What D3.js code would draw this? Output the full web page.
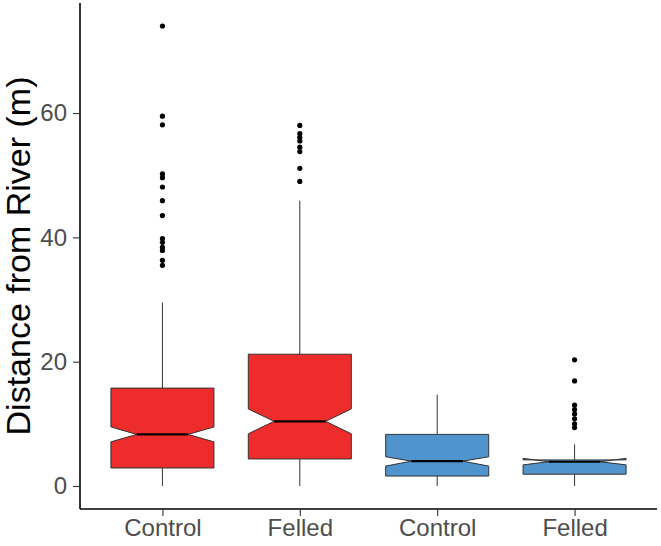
<!DOCTYPE html>
<html>
<head>
<meta charset="utf-8">
<script src="https://cdn.jsdelivr.net/npm/d3@7"></script>
<style>
  body { margin: 0; background: #fff; }
  svg { display: block; font-family: "Liberation Sans", Arial, sans-serif; }
</style>
</head>
<body>
<div id="chart"></div>
<script>
// groups and their x tick labels
var groups = ["g1", "g2", "g3", "g4"];
var labels = ["Control", "Felled", "Control", "Felled"];
var fills = ["#EE2C2C", "#EE2C2C", "#4F94CD", "#4F94CD"];

// box statistics
var lowerWhisker = [0, 0, 0, 0];
var q1 = [2.9, 4.35, 1.6, 1.9];
var notchLow = [7.1, 8.4, 3.2, 3.4];
var median = [8.3, 10.4, 4.0, 3.9];
var notchHigh = [9.5, 12.4, 4.7, 4.45];
var q3 = [15.75, 21.2, 8.3, 4.2];
var upperWhisker = [29.5, 45.9, 14.7, 6.7];

// outliers per group
var outliers = [
  [74.0, 59.5, 58.1, 50.2, 49.6, 48.1, 45.9, 43.5, 39.8, 39.2, 38.4, 37.9, 36.3, 35.5],
  [58.0, 56.7, 56.1, 55.5, 54.5, 53.8, 51.1, 49.0],
  [],
  [20.3, 16.9, 13.0, 12.3, 11.6, 10.8, 10.0, 9.4]
];

var yTicks = [0, 20, 40, 60];

var width = 661, height = 546;
var margin = { left: 80, right: 4, top: 3, bottom: 37 };

var svg = d3.select("#chart").append("svg")
  .attr("width", width)
  .attr("height", height);

var x = d3.scalePoint()
  .domain(groups)
  .range([margin.left, width - margin.right])
  .padding(0.6);

var y = d3.scaleLinear()
  .domain([-3.7, 77.7])
  .range([height - margin.bottom, margin.top]);

var boxW = x.step() * 0.75;

var data = groups.map(function (g, i) {
  return {
    g: g, fill: fills[i],
    lo: lowerWhisker[i], q1: q1[i], nl: notchLow[i], med: median[i],
    nh: notchHigh[i], q3: q3[i], hi: upperWhisker[i], out: outliers[i]
  };
});

var boxes = svg.append("g").selectAll("g")
  .data(data)
  .enter().append("g");

// whiskers
boxes.append("line")
  .attr("x1", function (d) { return x(d.g); })
  .attr("x2", function (d) { return x(d.g); })
  .attr("y1", function (d) { return y(d.q3); })
  .attr("y2", function (d) { return y(d.hi); })
  .attr("stroke", "#333").attr("stroke-width", 1);
boxes.append("line")
  .attr("x1", function (d) { return x(d.g); })
  .attr("x2", function (d) { return x(d.g); })
  .attr("y1", function (d) { return y(d.q1); })
  .attr("y2", function (d) { return y(d.lo); })
  .attr("stroke", "#333").attr("stroke-width", 1);

// notched box, same outline order ggplot uses
boxes.append("path")
  .attr("d", function (d) {
    var x0 = x(d.g) - boxW / 2, x1 = x(d.g) + boxW / 2, ind = boxW / 4;
    var pts = [
      [x0, y(d.q3)], [x0, y(d.nh)], [x0 + ind, y(d.med)], [x0, y(d.nl)], [x0, y(d.q1)],
      [x1, y(d.q1)], [x1, y(d.nl)], [x1 - ind, y(d.med)], [x1, y(d.nh)], [x1, y(d.q3)]
    ];
    return d3.line()(pts) + "Z";
  })
  .attr("fill", function (d) { return d.fill; })
  .attr("stroke", "#333")
  .attr("stroke-width", 1);

// median line
boxes.append("line")
  .attr("x1", function (d) { return x(d.g) - boxW / 4; })
  .attr("x2", function (d) { return x(d.g) + boxW / 4; })
  .attr("y1", function (d) { return y(d.med); })
  .attr("y2", function (d) { return y(d.med); })
  .attr("stroke", "#000").attr("stroke-width", 2.2);

// outlier points
boxes.selectAll("circle")
  .data(function (d) { return d.out.map(function (v) { return { g: d.g, v: v }; }); })
  .enter().append("circle")
  .attr("cx", function (d) { return x(d.g); })
  .attr("cy", function (d) { return y(d.v); })
  .attr("r", 2.6)
  .attr("fill", "#000");

// axes
var xAxis = svg.append("g")
  .attr("transform", "translate(0," + (height - margin.bottom) + ")")
  .call(d3.axisBottom(x).tickSize(7).tickPadding(3)
    .tickFormat(function (d, i) { return labels[i]; }));
var yAxis = svg.append("g")
  .attr("transform", "translate(" + margin.left + ",0)")
  .call(d3.axisLeft(y).tickValues(yTicks).tickSize(7).tickPadding(6));

[xAxis, yAxis].forEach(function (ax) {
  ax.select(".domain").attr("stroke", "#000").attr("stroke-width", 1.6);
  ax.selectAll(".tick line").attr("stroke", "#333").attr("stroke-width", 1.1);
  ax.selectAll(".tick text")
    .attr("fill", "#4D4D4D")
    .style("font-size", "24px")
    .style("font-family", "'Liberation Sans', Arial, sans-serif");
});
// ggplot-like domain without end caps
xAxis.select(".domain").attr("d", "M" + margin.left + ",0H" + (width - margin.right));
yAxis.select(".domain").attr("d", "M0," + (height - margin.bottom) + "V" + margin.top);

// y axis title
svg.append("text")
  .attr("transform", "translate(30," + ((margin.top + height - margin.bottom) / 2) + ") rotate(-90)")
  .attr("text-anchor", "middle")
  .style("font-size", "34px")
  .attr("fill", "#000")
  .text("Distance from River (m)");
</script>
</body>
</html>
